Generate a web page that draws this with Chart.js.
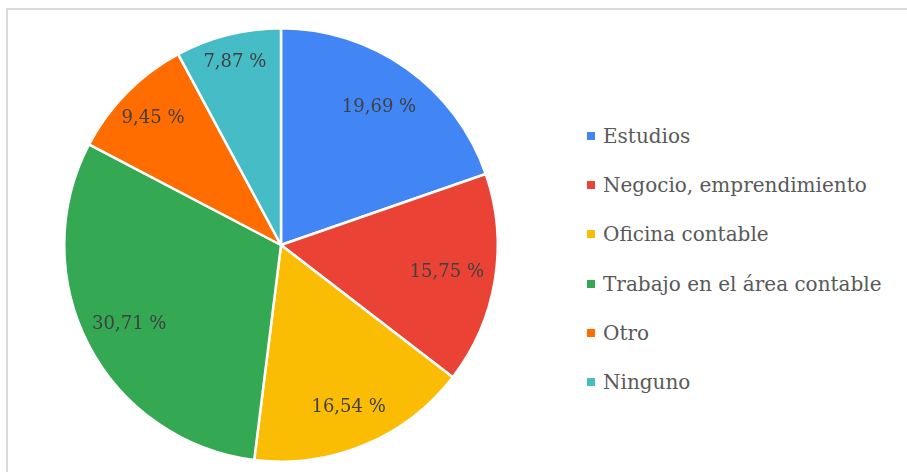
<!DOCTYPE html>
<html>
<head>
<meta charset="utf-8">
<script src="https://cdn.jsdelivr.net/npm/chart.js@4/dist/chart.umd.min.js"></script>
<style>
  html, body { margin: 0; padding: 0; background: #fff; }
  body { width: 907px; height: 472px; position: relative; overflow: hidden; font-family: "DejaVu Serif", serif; }
  #frame { position: absolute; left: 6px; top: 8px; width: 1000px; height: 600px; border-left: 2px solid #dadada; border-top: 2px solid #dadada; }
  #wrap { position: absolute; left: 0; top: 0; width: 562px; height: 472px; }
  #legend { position: absolute; left: 587px; top: 111px; margin: 0; padding: 0; list-style: none; }
  #legend li { height: 49.3px; display: flex; align-items: center; font-size: 20px; color: #595959; white-space: nowrap; }
  #legend span.box { display: inline-block; width: 8px; height: 8px; margin-right: 8px; }
</style>
</head>
<body>
<div id="frame"></div>
<div id="wrap"><canvas id="pieChart"></canvas></div>
<ul id="legend"></ul>
<script>
// datos del gráfico
const categorias = ['Estudios', 'Negocio, emprendimiento', 'Oficina contable', 'Trabajo en el área contable', 'Otro', 'Ninguno'];
const porcentajes = [19.69, 15.75, 16.54, 30.71, 9.45, 7.87];
const colores = ['#4285F4', '#EA4335', '#FBBC04', '#34A853', '#FF6D01', '#46BDC6'];

// etiquetas dentro de cada porción
const etiquetasPlugin = {
    id: 'etiquetas',
    afterDatasetsDraw(chart, args, opts) {
        const ctx = chart.ctx;
        const meta = chart.getDatasetMeta(0);
        ctx.save();
        ctx.font = '18px "DejaVu Serif", serif';
        ctx.fillStyle = '#404040';
        ctx.textAlign = 'center';
        ctx.textBaseline = 'middle';
        meta.data.forEach((arc, i) => {
            const p = arc.getProps(['x', 'y', 'startAngle', 'endAngle', 'outerRadius'], true);
            const mid = (p.startAngle + p.endAngle) / 2;
            const r = p.outerRadius * (opts.radios[i] || 0.8);
            const txt = porcentajes[i].toFixed(2).replace('.', ',') + ' %';
            ctx.fillText(txt, p.x + Math.cos(mid) * r, p.y + Math.sin(mid) * r);
        });
        ctx.restore();
    }
};

new Chart(document.getElementById('pieChart'), {
    type: 'pie',
    data: {
        labels: categorias,
        datasets: [{
            data: porcentajes,
            backgroundColor: colores,
            borderColor: '#ffffff',
            borderWidth: 2.5
        }]
    },
    options: {
        responsive: true,
        maintainAspectRatio: false,
        animation: false,
        layout: { padding: { top: 27, bottom: 9, left: 63, right: 63 } },
        plugins: {
            legend: { display: false },
            tooltip: { enabled: false },
            etiquetas: { radios: [0.78, 0.775, 0.81, 0.79, 0.83, 0.87] }
        }
    },
    plugins: [etiquetasPlugin]
});

// leyenda a la derecha
const legend = document.getElementById('legend');
categorias.forEach((c, i) => {
    const li = document.createElement('li');
    li.innerHTML = `<span class="box" style="background:${colores[i]}"></span>${c}`;
    legend.appendChild(li);
});
</script>
</body>
</html>
